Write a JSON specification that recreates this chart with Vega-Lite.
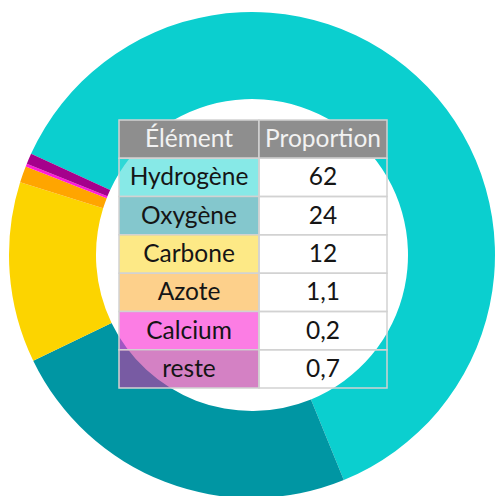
{
  "$schema": "https://vega.github.io/schema/vega-lite/v6.json",
  "width": 504,
  "height": 510,
  "autosize": {"type": "none"},
  "padding": 0,
  "background": "white",
  "config": {"view": {"stroke": null}},
  "data": {
    "values": [
      {"row": 0, "kind": "header", "name": "Élément", "value": "Proportion", "proportion": null},
      {"row": 1, "kind": "cell", "name": "Hydrogène", "value": "62", "proportion": 62},
      {"row": 2, "kind": "cell", "name": "Oxygène", "value": "24", "proportion": 24},
      {"row": 3, "kind": "cell", "name": "Carbone", "value": "12", "proportion": 12},
      {"row": 4, "kind": "cell", "name": "Azote", "value": "1,1", "proportion": 1.1},
      {"row": 5, "kind": "cell", "name": "Calcium", "value": "0,2", "proportion": 0.2},
      {"row": 6, "kind": "cell", "name": "reste", "value": "0,7", "proportion": 0.7}
    ]
  },
  "resolve": {"scale": {"x": "independent"}},
  "layer": [
    {
      "transform": [{"filter": "datum.kind === 'cell'"}],
      "mark": {"type": "arc", "innerRadius": 156, "outerRadius": 243},
      "encoding": {
        "theta": {"field": "proportion", "type": "quantitative", "stack": true, "scale": {"range": [-1.1414, 5.1418]}},
        "order": {"field": "row", "type": "quantitative"},
        "color": {
          "field": "name", "type": "nominal", "legend": null,
          "scale": {
            "domain": ["Hydrogène", "Oxygène", "Carbone", "Azote", "Calcium", "reste"],
            "range": ["#0BCFCF", "#0096A3", "#FCD400", "#FFA500", "#FF1AD9", "#A5008C"]
          }
        }
      }
    },
    {
      "encoding": {
        "x": {"datum": "A", "type": "nominal", "axis": null, "scale": {"domain": ["A"], "range": [119, 259], "paddingInner": 0, "paddingOuter": 0}},
        "y": {"field": "row", "type": "ordinal", "axis": null, "scale": {"domain": [0, 1, 2, 3, 4, 5, 6], "range": [120, 388], "paddingInner": 0, "paddingOuter": 0}}
      },
      "layer": [
        {
          "mark": {"type": "rect", "stroke": "#D2D2D2", "strokeWidth": 1.5},
          "encoding": {
            "fill": {
              "field": "name", "type": "nominal", "legend": null,
              "scale": {
                "domain": ["Élément", "Hydrogène", "Oxygène", "Carbone", "Azote", "Calcium", "reste"],
                "range": ["#8E8E8E", "#43DDDA", "#3EA8B1", "#FCDD41", "#FCB649", "#FA33D5", "#BC3AA2"]
              }
            },
            "fillOpacity": {"condition": {"test": "datum.kind === 'header'", "value": 1}, "value": 0.64}
          }
        },
        {
          "mark": {"type": "text", "font": "Lato", "fontSize": 24.5, "baseline": "middle", "align": "center", "dy": 1},
          "encoding": {
            "text": {"field": "name", "type": "nominal"},
            "color": {"condition": {"test": "datum.kind === 'header'", "value": "#F2F2F2"}, "value": "#151515"}
          }
        }
      ]
    },
    {
      "encoding": {
        "x": {"datum": "B", "type": "nominal", "axis": null, "scale": {"domain": ["B"], "range": [259, 387], "paddingInner": 0, "paddingOuter": 0}},
        "y": {"field": "row", "type": "ordinal", "axis": null}
      },
      "layer": [
        {
          "mark": {"type": "rect", "stroke": "#D2D2D2", "strokeWidth": 1.5},
          "encoding": {
            "fill": {"condition": {"test": "datum.kind === 'header'", "value": "#8E8E8E"}, "value": "transparent"}
          }
        },
        {
          "mark": {"type": "text", "font": "Lato", "fontSize": 24.5, "baseline": "middle", "align": "center", "dy": 1},
          "encoding": {
            "text": {"field": "value", "type": "nominal"},
            "color": {"condition": {"test": "datum.kind === 'header'", "value": "#F2F2F2"}, "value": "#151515"}
          }
        }
      ]
    }
  ]
}
